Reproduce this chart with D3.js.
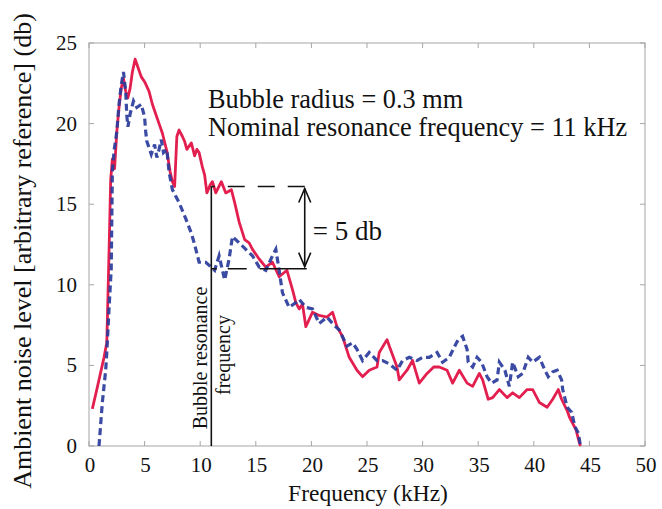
<!DOCTYPE html>
<html>
<head>
<meta charset="utf-8">
<script src="https://cdn.jsdelivr.net/npm/d3@7"></script>
<style>
  html, body { margin: 0; padding: 0; background: #fff; }
  svg { display: block; }
  text { font-family: "Liberation Serif", "DejaVu Serif", serif; fill: #111; }
</style>
</head>
<body>
<svg id="chart"></svg>
<script>
// ── Data ─────────────────────────────────────────────
// solid red curve: [frequency kHz, level db]
const redSeries = [
  [0.3, 2.3], [0.8, 3.8], [1.35, 5.5], [1.6, 6.4], [1.8, 12], [1.95, 16.5],
  [2.1, 17.8], [2.3, 17.2], [2.5, 19.5], [2.7, 21.0], [2.9, 22.2], [3.1, 22.8],
  [3.3, 22.0], [3.5, 21.6], [3.7, 22.2], [3.9, 23.2], [4.15, 24.0], [4.4, 23.5],
  [4.7, 22.9], [5.0, 22.6], [5.4, 22.0], [5.7, 21.2], [6.0, 20.6], [6.3, 20.0],
  [6.6, 19.4], [7.0, 18.3], [7.3, 17.0], [7.5, 16.4], [7.7, 16.1], [7.9, 19.2],
  [8.1, 19.6], [8.4, 19.2], [8.6, 18.9], [8.8, 18.4], [9.0, 18.6], [9.2, 18.8],
  [9.5, 18.0], [9.7, 18.4], [9.9, 18.2], [10.2, 17.3], [10.4, 16.8], [10.6, 15.7],
  [10.9, 16.2], [11.1, 16.4], [11.4, 15.7], [11.9, 16.4], [12.3, 15.7], [12.8, 15.9],
  [13.1, 15.1], [13.5, 13.9], [14.0, 12.8], [14.4, 12.6], [14.7, 12.2], [15.3, 11.6],
  [15.9, 11.1], [16.5, 11.4], [17.1, 10.5], [17.8, 10.9], [18.3, 9.7], [18.6, 8.9],
  [18.9, 8.5], [19.2, 8.8], [19.5, 7.4], [20.1, 8.3], [20.7, 8.1], [21.4, 8.0],
  [21.9, 8.3], [22.3, 7.4], [22.8, 6.8], [23.4, 5.5], [24.1, 4.7], [24.6, 4.3],
  [25.2, 4.7], [25.9, 4.9], [26.1, 5.8], [26.8, 6.6], [27.0, 6.2], [27.7, 4.9],
  [27.9, 4.1], [28.6, 4.7], [29.1, 5.3], [29.7, 3.9], [30.4, 4.5], [31.0, 4.9],
  [31.5, 4.9], [32.2, 4.7], [32.7, 3.9], [33.3, 4.7], [34.0, 3.9], [34.5, 3.7],
  [35.1, 4.5], [35.4, 4.1], [35.9, 2.9], [36.3, 3.0], [36.9, 3.5], [37.6, 3.0],
  [38.1, 3.3], [38.7, 3.0], [39.4, 3.5], [39.9, 3.5], [40.5, 2.7], [41.2, 2.4],
  [41.7, 2.9], [42.2, 3.5], [42.5, 2.9], [43.0, 2.2], [43.2, 1.8], [43.8, 1.0],
  [44.1, 0.2], [44.2, 0]
];

// dashed blue curve
const blueSeries = [
  [0.9, 0], [1.2, 2.7], [1.5, 4.7], [1.6, 5.8], [1.8, 8.5], [2.0, 11], [2.1, 17.0],
  [2.25, 18.3], [2.5, 19.5], [2.7, 21.2], [2.9, 22.4], [3.1, 23.2], [3.3, 22.0],
  [3.4, 20.5], [3.5, 19.8], [3.7, 20.6], [4.0, 21.4], [4.3, 21.0], [4.7, 21.2],
  [5.0, 20.4], [5.1, 19.5], [5.2, 18.9], [5.6, 18.1], [5.9, 18.7], [6.1, 17.9],
  [6.3, 18.4], [6.5, 19.0], [6.7, 18.2], [7.0, 18.4], [7.2, 17.0], [7.5, 15.9],
  [7.8, 15.5], [8.1, 15.1], [8.4, 14.6], [8.7, 14.1], [9.2, 13.2], [9.5, 12.5],
  [9.9, 11.4], [10.5, 11.4], [11.3, 10.9], [11.7, 11.8], [12.2, 10.3], [12.6, 11.6],
  [12.9, 13.0], [13.5, 12.6], [14.1, 12.2], [14.7, 11.8], [15.3, 11.1], [15.9, 10.9],
  [16.5, 11.8], [16.8, 12.2], [17.1, 10.9], [17.4, 9.5], [18.0, 8.6], [18.6, 8.9],
  [18.9, 9.1], [19.5, 8.6], [20.1, 8.5], [20.7, 7.6], [21.4, 8.0], [21.9, 7.6],
  [22.5, 7.2], [23.2, 6.2], [23.7, 6.4], [24.1, 6.0], [24.6, 5.3], [25.2, 5.8],
  [25.9, 5.3], [26.4, 5.3], [27.0, 5.1], [27.7, 4.7], [28.2, 5.3], [28.8, 5.5],
  [29.5, 5.3], [30.0, 5.5], [30.6, 5.5], [31.3, 5.8], [31.8, 5.2], [32.4, 5.5],
  [32.9, 6.2], [33.2, 6.6], [33.6, 6.8], [34.0, 6.0], [34.1, 5.2], [34.5, 4.9],
  [34.9, 5.5], [35.3, 5.2], [35.8, 4.3], [36.2, 3.9], [36.7, 4.1], [36.9, 5.2],
  [37.4, 4.7], [37.8, 3.7], [38.1, 5.2], [38.6, 4.3], [39.0, 4.5], [39.5, 5.5],
  [39.9, 5.2], [40.5, 5.5], [41.0, 4.7], [41.3, 4.3], [41.7, 4.6], [42.1, 4.7],
  [42.5, 4.1], [42.6, 3.5], [43.0, 2.4], [43.4, 2.1], [43.7, 1.2], [44.0, 0.8],
  [44.2, 0]
];

const xTicks = [0, 5, 10, 15, 20, 25, 30, 35, 40, 45, 50];
const yTicks = [0, 5, 10, 15, 20, 25];

// resonance annotation (kHz, db)
const resonanceFreq = 11;
const levelHigh = 16.1;
const levelLow = 11.0;
const arrowFreq = 19.4;

const infoLines = ['Bubble radius = 0.3 mm', 'Nominal resonance frequency = 11 kHz'];

// ── Layout ───────────────────────────────────────────
const W = 662, H = 509;
const svg = d3.select('#chart').attr('width', W).attr('height', H);

const x = d3.scaleLinear().domain([0, 50]).range([89, 645]);
const y = d3.scaleLinear().domain([0, 25]).range([446, 43]);

// frame
svg.append('rect')
  .attr('x', x(0)).attr('y', y(25))
  .attr('width', x(50) - x(0)).attr('height', y(0) - y(25))
  .attr('fill', 'none').attr('stroke', '#a5a5a5').attr('stroke-width', 1);

// inward ticks
const tickG = svg.append('g').attr('stroke', '#a5a5a5').attr('stroke-width', 1);
xTicks.forEach(t => {
  tickG.append('line').attr('x1', x(t)).attr('x2', x(t)).attr('y1', y(0)).attr('y2', y(0) - 5);
  tickG.append('line').attr('x1', x(t)).attr('x2', x(t)).attr('y1', y(25)).attr('y2', y(25) + 5);
});
yTicks.forEach(t => {
  tickG.append('line').attr('x1', x(0)).attr('x2', x(0) + 5).attr('y1', y(t)).attr('y2', y(t));
  tickG.append('line').attr('x1', x(50)).attr('x2', x(50) - 5).attr('y1', y(t)).attr('y2', y(t));
});

// tick labels
svg.append('g').selectAll('text')
  .data(xTicks)
  .join('text')
    .attr('x', d => x(d) + 1)
    .attr('y', 472)
    .attr('text-anchor', 'middle')
    .attr('font-size', 21)
    .text(d => d);

svg.append('g').selectAll('text')
  .data(yTicks)
  .join('text')
    .attr('x', 77)
    .attr('y', d => y(d) + 7)
    .attr('text-anchor', 'end')
    .attr('font-size', 21)
    .text(d => d);

// axis titles
svg.append('text')
  .attr('x', 368).attr('y', 501)
  .attr('text-anchor', 'middle')
  .attr('font-size', 23.5)
  .text('Frequency (kHz)');

svg.append('text')
  .attr('transform', 'translate(31,251) rotate(-90)')
  .attr('text-anchor', 'middle')
  .attr('font-size', 26)
  .text('Ambient noise level [arbitrary reference] (db)');

// ── Curves ───────────────────────────────────────────
const line = d3.line().x(d => x(d[0])).y(d => y(d[1]));

svg.append('path')
  .datum(redSeries)
  .attr('d', line)
  .attr('fill', 'none')
  .attr('stroke', '#e31f4f')
  .attr('stroke-width', 2.8)
  .attr('stroke-linejoin', 'round');

svg.append('path')
  .datum(blueSeries)
  .attr('d', line)
  .attr('fill', 'none')
  .attr('stroke', '#2a3c9c')
  .attr('stroke-width', 3.2)
  .attr('stroke-dasharray', '7 4')
  .attr('opacity', 0.92);

// ── Resonance annotation ─────────────────────────────
const annG = svg.append('g').attr('stroke', '#111').attr('fill', 'none');

annG.append('line')
  .attr('x1', x(resonanceFreq)).attr('x2', x(resonanceFreq))
  .attr('y1', y(0)).attr('y2', y(levelHigh))
  .attr('stroke-width', 1.6);

annG.append('line')
  .attr('x1', x(arrowFreq)).attr('x2', x(resonanceFreq))
  .attr('y1', y(levelHigh)).attr('y2', y(levelHigh))
  .attr('stroke-width', 1.6)
  .attr('stroke-dasharray', '17 13');

annG.append('line')
  .attr('x1', x(arrowFreq) + 2).attr('x2', x(resonanceFreq))
  .attr('y1', y(levelLow)).attr('y2', y(levelLow))
  .attr('stroke-width', 1.6)
  .attr('stroke-dasharray', '47 13 19 11 5');

// double-headed arrow
const ax = x(arrowFreq);
const aTop = y(levelHigh) + 2, aBot = y(levelLow) - 2;
annG.append('line').attr('x1', ax).attr('x2', ax).attr('y1', aTop).attr('y2', aBot).attr('stroke-width', 1.6);
annG.append('path')
  .attr('d', `M${ax - 6},${aTop + 14} L${ax},${aTop} L${ax + 6},${aTop + 14}`)
  .attr('stroke-width', 1.6);
annG.append('path')
  .attr('d', `M${ax - 6},${aBot - 14} L${ax},${aBot} L${ax + 6},${aBot - 14}`)
  .attr('stroke-width', 1.6);

svg.append('text')
  .attr('x', ax + 8).attr('y', 240)
  .attr('font-size', 27)
  .text('= 5 db');

// rotated resonance label
svg.append('text')
  .attr('transform', `translate(${x(resonanceFreq) - 4},358) rotate(-90)`)
  .attr('text-anchor', 'middle')
  .attr('font-size', 20)
  .text('Bubble resonance');

svg.append('text')
  .attr('transform', `translate(${x(resonanceFreq) + 19},355) rotate(-90)`)
  .attr('text-anchor', 'middle')
  .attr('font-size', 20)
  .text('frequency');

// info text
svg.append('g').selectAll('text')
  .data(infoLines)
  .join('text')
    .attr('x', 208)
    .attr('y', (d, i) => 108 + i * 28)
    .attr('font-size', 26.3)
    .text(d => d);
</script>
</body>
</html>
